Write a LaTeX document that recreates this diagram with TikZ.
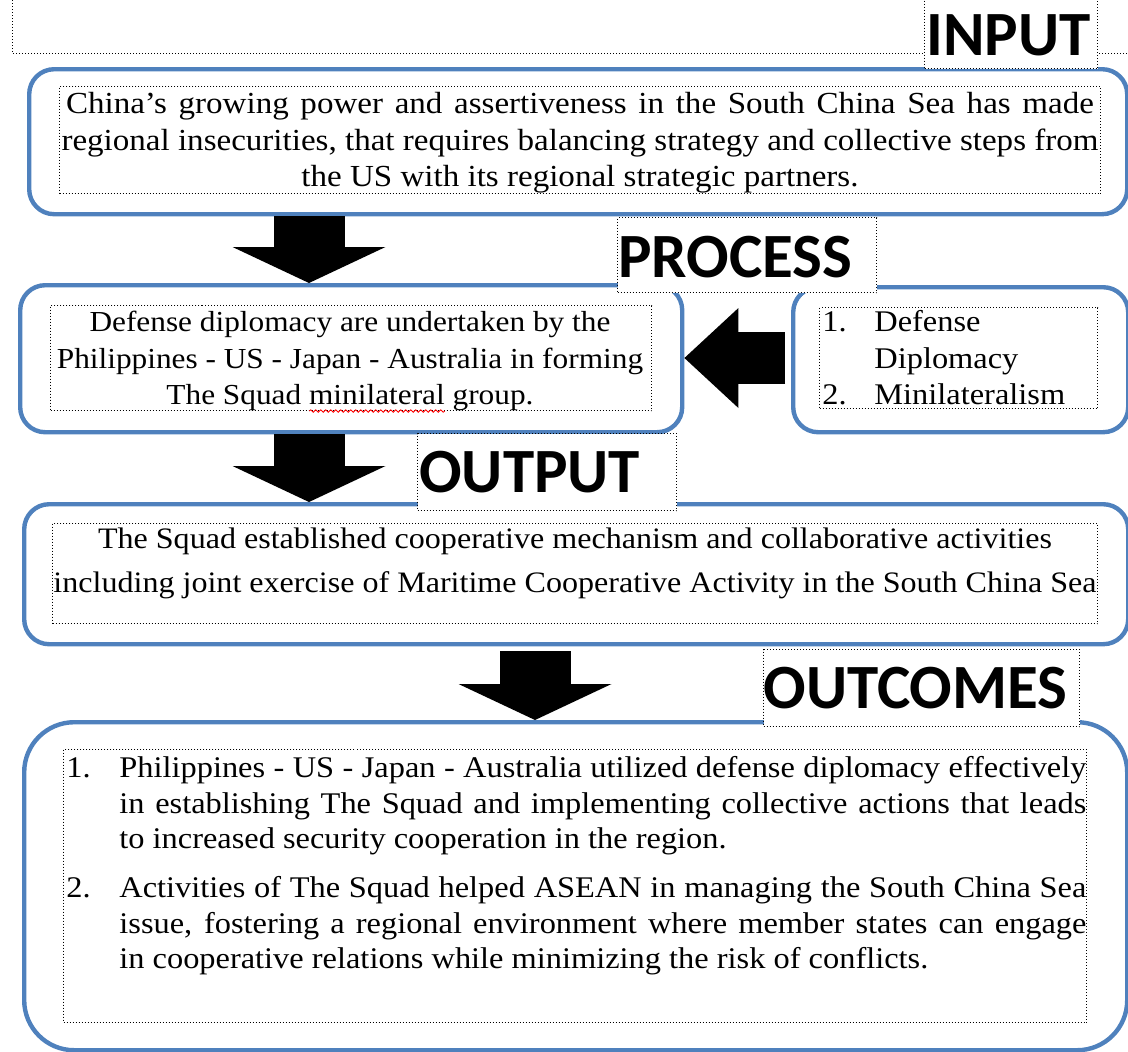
\documentclass[tikz,border=0pt]{standalone}
\usepackage{fontspec}
\setmainfont{Liberation Serif}[FakeStretch=1.08]
\newfontfamily\headfont{Carlito}
\usetikzlibrary{arrows.meta,calc,decorations.pathmorphing}
\definecolor{boxblue}{RGB}{79,129,189}
\begin{document}
\begin{tikzpicture}[x=0.5pt,y=-0.5pt]

    \tikzset{bluebox/.style={draw=boxblue,line width=2.2pt,rounded corners=12.5pt,anchor=north west,inner sep=0pt},
             dotbox/.style={draw,densely dotted,line width=0.5pt,anchor=north west,inner sep=0pt},
             headbox/.style={dotbox,fill=white},
             headtext/.style={font=\headfont\bfseries\fontsize{31.5}{31.5}\selectfont,anchor=base west,inner sep=0pt},
             bodytext/.style={font=\fontsize{#1}{18}\selectfont,anchor=base,inner sep=0pt},
             bodytext/.default=15,
             listtext/.style={bodytext,anchor=base west},
             blockarrow/.style={line width=35.5pt,-{Triangle[width=76.5pt,length=18pt,line width=0pt]}},
             spellwave/.style={red,line width=0.4pt,decorate,decoration={snake,amplitude=0.6pt,segment length=2.5pt}}}

    \useasboundingbox (0,0) rectangle (1128,1051);
    \draw[densely dotted,line width=0.5pt] (12,0) -- (12,53) -- (1128,53);

    % the stages
    \node[bluebox,minimum width=549pt,minimum height=72.5pt] (input) at (27,67) {};
    \node[bluebox,minimum width=331pt,minimum height=73.5pt] (process) at (18,283) {};
    \node[bluebox,minimum width=167.5pt,minimum height=72.5pt] (tools) at (791,285) {};
    \node[bluebox,minimum width=552pt,minimum height=70pt] (output) at (22,502) {};
    \node[bluebox,minimum width=551.5pt,minimum height=164pt,rounded corners=25pt] (outcomes) at (22,720) {};

    \node[dotbox,minimum width=520.5pt,minimum height=53.5pt] (inputtxt) at (59,86) {};
    \node[dotbox,minimum width=300.5pt,minimum height=52.5pt] (processtxt) at (50,305) {};
    \node[dotbox,minimum width=139pt,minimum height=50.5pt] (toolstxt) at (819,307) {};
    \node[dotbox,minimum width=522.5pt,minimum height=50pt] (outputtxt) at (52,523) {};
    \node[dotbox,minimum width=511.5pt,minimum height=136.5pt] (outcomestxt) at (63,749) {};

    % block arrows
    \coordinate (ax1) at (309,0);
    \coordinate (ax3) at (535,0);
    \coordinate (ay) at (0,358);
    \draw[blockarrow] (input.south -| ax1) -- (process.north -| ax1);
    \draw[blockarrow] (process.south -| ax1) -- (output.north -| ax1);
    \draw[blockarrow,shorten <=2.5pt] (output.south -| ax3) -- (outcomes.north -| ax3);
    \draw[line width=26pt,-{Triangle[width=50pt,length=27pt,line width=0pt]},shorten <=3pt] (tools.west |- ay) -- (process.east |- ay);

    % texts
    \node[bodytext=15.3] (in1) at (580,113) {\makebox[514pt][s]{China’s growing power and assertiveness in the South China Sea has made}};
    \node[bodytext=15.3] (in2) at (580,150) {regional insecurities, that requires balancing strategy and collective steps from};
    \node[bodytext=15.3] (in3) at (580,186) {the US with its regional strategic partners.};

    \node[bodytext=14.5] (pr1) at (350,331) {Defense diplomacy are undertaken by the};
    \node[bodytext=14.5] (pr2) at (350,368) {Philippines - US - Japan - Australia in forming};
    \node[bodytext=14.5] (pr3) at (350,404) {The Squad minilateral group.};
    \draw[spellwave] ($(pr3.base west)!0.389!(pr3.base east)+(0,7)$) -- ($(pr3.base west)!0.758!(pr3.base east)+(0,7)$);

    \node[listtext] (tn1) at (822,331) {1.};
    \node[listtext] (tl1) at (874,331) {Defense};
    \node[listtext] (tl2) at (874,368) {Diplomacy};
    \node[listtext] (tn2) at (822,404) {2.};
    \node[listtext] (tl3) at (874,404) {Minilateralism};

    \node[bodytext=14.85] (out1) at (575,548) {The Squad established cooperative mechanism and collaborative activities};
    \node[bodytext=14.85] (out2) at (575,592) {including joint exercise of Maritime Cooperative Activity in the South China Sea};

    \node[listtext] (on1) at (66,777) {1.};
    \node[listtext] (oa1) at (119,777) {\makebox[483.5pt][s]{Philippines - US - Japan - Australia utilized defense diplomacy effectively}};
    \node[listtext] (oa2) at (119,813) {\makebox[483.5pt][s]{in establishing The Squad and implementing collective actions that leads}};
    \node[listtext] (oa3) at (119,848) {to increased security cooperation in the region.};
    \node[listtext] (on2) at (66,897) {2.};
    \node[listtext] (ob1) at (119,897) {\makebox[483.5pt][s]{Activities of The Squad helped ASEAN in managing the South China Sea}};
    \node[listtext] (ob2) at (119,933) {\makebox[483.5pt][s]{issue, fostering a regional environment where member states can engage}};
    \node[listtext] (ob3) at (119,968) {in cooperative relations while minimizing the risk of conflicts.};

    % stage headings
    \node[headbox,minimum width=86.5pt,minimum height=40pt] (inputlbl) at (924,-12) {};
    \node[headtext] (inputhead) at (926,55) {INPUT};
    \node[headbox,minimum width=129.5pt,minimum height=37.5pt] (processlbl) at (617,217) {};
    \node[headtext] (processhead) at (618,277) {PROCESS};
    \node[headbox,minimum width=129.5pt,minimum height=38.5pt] (outputlbl) at (417,433) {};
    \node[headtext] (outputhead) at (419,492) {OUTPUT};
    \node[headbox,minimum width=158pt,minimum height=38.5pt] (outcomeslbl) at (763,649) {};
    \node[headtext] (outcomeshead) at (763,708) {OUTCOMES};

\end{tikzpicture}
\end{document}
